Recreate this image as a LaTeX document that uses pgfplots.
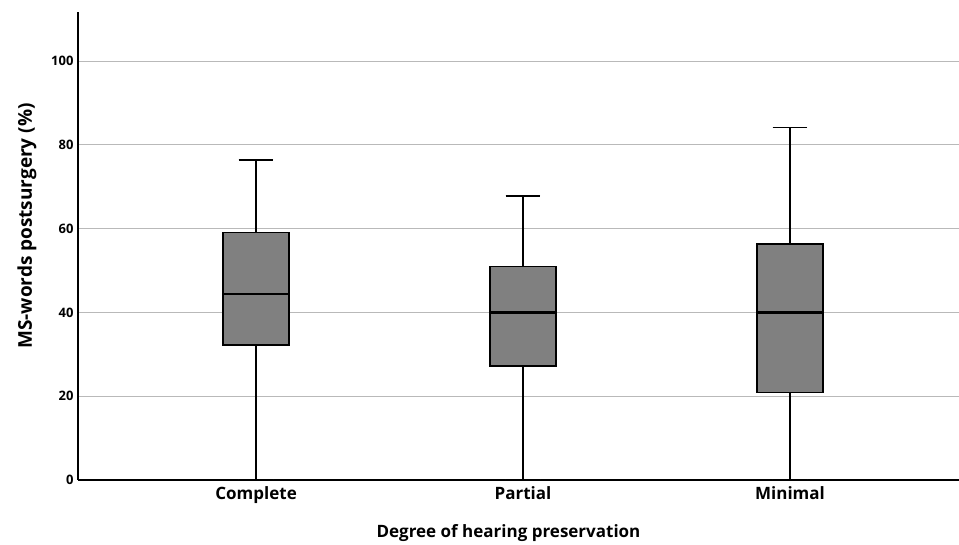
\documentclass[border=0pt]{standalone}
\usepackage{fontspec}
\setmainfont{Open Sans}
\usepackage{pgfplots}
\pgfplotsset{compat=1.18}
\usepgfplotslibrary{statistics}
\definecolor{boxgray}{RGB}{128,128,128}
\definecolor{gridgray}{RGB}{185,185,185}
\begin{document}
\begin{tikzpicture}
\useasboundingbox (0,0) rectangle (959pt,545pt);
\begin{axis}[
  at={(78pt,65pt)}, anchor=south west,
  scale only axis, width=881pt, height=468pt,
  xmin=0.333, xmax=3.633, ymin=0, ymax=111.7,
  axis lines*=left,
  axis line style={black, line width=1.3pt},
  xtick={1,2,3}, xticklabels={Complete,Partial,Minimal},
  ytick={0,20,40,60,80,100},
  ymajorgrids, grid style={gridgray, line width=0.9pt},
  major tick length=0pt,
  /pgf/number format/assume math mode=true,
  xticklabel style={font=\fontsize{17}{19}\selectfont\bfseries, yshift=-3pt},
  yticklabel style={font=\fontsize{13}{15}\selectfont\bfseries, xshift=-1pt},
  xlabel={Degree of hearing preservation},
  ylabel={MS-words postsurgery (\%)},
  xlabel style={font=\fontsize{17}{19}\selectfont\bfseries, yshift=-14pt, xshift=-10pt},
  ylabel style={font=\fontsize{19}{21}\selectfont\bfseries, yshift=8pt, xshift=20pt},
  boxplot/draw direction=y,
  boxplot/box extend=0.247,
  boxplot/whisker extend=0.13,
  clip=false,
]
\addplot+[boxplot prepared={draw position=1, lower whisker=0, lower quartile=32.2, median=44.3, upper quartile=59, upper whisker=76.4},
  fill=boxgray, draw=black, line width=1.3pt, mark=none, solid,
  boxplot/every median/.style={line width=2.2pt}] coordinates {};
\addplot+[boxplot prepared={draw position=2, lower whisker=0, lower quartile=27.2, median=40, upper quartile=51, upper whisker=67.8},
  fill=boxgray, draw=black, line width=1.3pt, mark=none, solid,
  boxplot/every median/.style={line width=2.2pt}] coordinates {};
\addplot+[boxplot prepared={draw position=3, lower whisker=0, lower quartile=20.8, median=40, upper quartile=56.3, upper whisker=84.2},
  fill=boxgray, draw=black, line width=1.3pt, mark=none, solid,
  boxplot/every median/.style={line width=2.2pt}] coordinates {};
\end{axis}
\end{tikzpicture}
\end{document}
